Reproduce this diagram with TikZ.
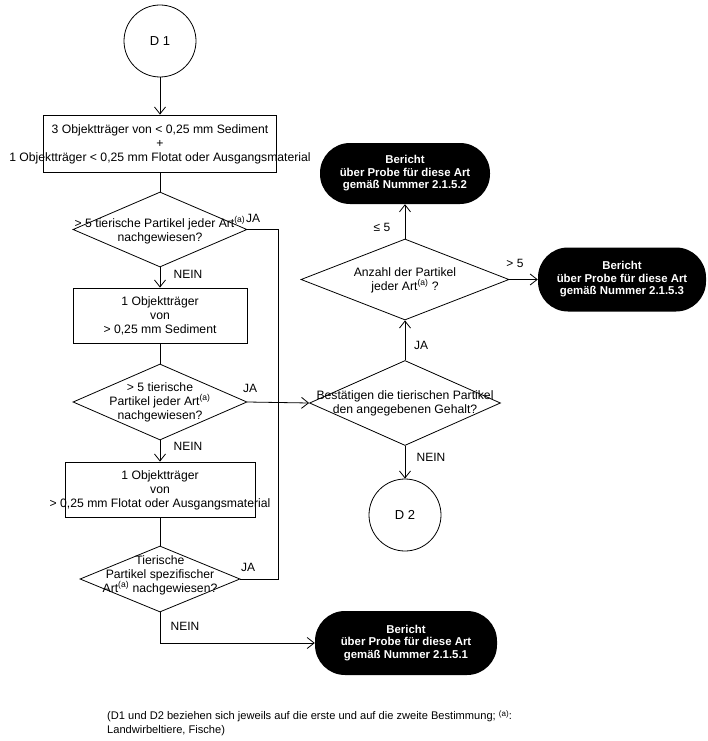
\documentclass[tikz,border=0pt]{standalone}
\usepackage{fontspec}
\setmainfont{Liberation Sans}
\usetikzlibrary{shapes.geometric,arrows.meta}
\begin{document}
\begin{tikzpicture}[x=1pt,y=-1pt,
  every node/.style={inner sep=0pt},
  ln/.style={line width=0.8pt},
  arr/.style={ln,-{Straight Barb[length=7pt,width=11pt,line width=0.8pt]}},
  box/.style={draw,rectangle,ln},
  dia/.style={draw,diamond,ln},
  circ/.style={draw,circle,ln,minimum size=72pt,font=\fontsize{13}{15}\selectfont},
  term/.style={fill=black,rectangle,rounded corners=30pt,text=white,align=center,
     font=\bfseries\fontsize{11.4}{12.5}\selectfont},
  txt/.style={align=center,font=\fontsize{12.2}{14}\selectfont},
  lab/.style={font=\fontsize{12}{13}\selectfont}
]
\useasboundingbox[fill=white] (0,0) rectangle (708,741);

% left column
\node[circ] (d1) at (160,41) {D 1};
\node[box,minimum width=233pt,minimum height=57pt] (b1) at (160,143.5) {};
\node[txt] (b1t) at (160,144) {3 Objektträger von < 0,25 mm Sediment\\+\\1 Objektträger < 0,25 mm Flotat oder Ausgangsmaterial};

\node[dia,minimum width=174pt,minimum height=75pt] (q1) at (160,229.5) {};
\node[txt] (q1t) at (160,230) {> 5 tierische Partikel jeder Art\textsuperscript{(a)}\\nachgewiesen?};

\node[box,minimum width=174pt,minimum height=55pt] (b2) at (160,315.5) {};
\node[txt] (b2t) at (160,316) {1 Objektträger\\von\\> 0,25 mm Sediment};

\node[dia,minimum width=174pt,minimum height=76pt] (q2) at (160,402) {};
\node[txt] (q2t) at (160,402) {> 5 tierische\\Partikel jeder Art\textsuperscript{(a)}\\nachgewiesen?};

\node[box,minimum width=190pt,minimum height=55pt] (b3) at (160,489.5) {};
\node[txt] (b3t) at (160,490) {1 Objektträger\\von\\> 0,25 mm Flotat oder Ausgangsmaterial};

\node[dia,minimum width=160pt,minimum height=66pt] (q3) at (160,579) {};
\node[txt] (q3t) at (160,575) {Tierische\\Partikel spezifischer\\Art\textsuperscript{(a)} nachgewiesen?};

\node[term,minimum width=182pt,minimum height=64pt] (t3) at (406,643) {Bericht\\über Probe für diese Art\\gemäß Nummer 2.1.5.1};

% right column
\node[dia,minimum width=191pt,minimum height=85pt] (q4) at (405,403) {};
\node[txt] (q4t) at (405,403) {Bestätigen die tierischen Partikel\\den angegebenen Gehalt?};

\node[dia,minimum width=208pt,minimum height=81pt] (q5) at (405,279.5) {};
\node[txt] (q5t) at (405,280) {Anzahl der Partikel\\jeder Art\textsuperscript{(a)} ?};

\node[circ] (d2) at (405,515) {D 2};

\node[term,minimum width=170pt,minimum height=61pt] (t2) at (405,173.5) {Bericht\\über Probe für diese Art\\gemäß Nummer 2.1.5.2};
\node[term,minimum width=168pt,minimum height=64pt] (t1) at (622,279.5) {Bericht\\über Probe für diese Art\\gemäß Nummer 2.1.5.3};

% helper coordinates
\coordinate (c1) at (278,229.5);
\coordinate (c2) at (278,579);
\coordinate (c3) at (160,643);

% connectors
\draw[arr] (d1) -- (b1);
\draw[ln] (b1) -- (q1);
\draw[arr] (q1) -- (b2);
\draw[ln] (q1.east) -- (c1) -- (c2) -- (q3.east);
\draw[ln] (b2) -- (q2);
\draw[arr] (q2.east) -- (q4.west);
\draw[arr] (q2) -- (b3);
\draw[ln] (b3) -- (q3);
\draw[arr] (q3.south) -- (c3) -- (t3.west);
\draw[arr] (q4) -- (q5);
\draw[arr] (q4) -- (d2);
\draw[arr] (q5) -- (t2);
\draw[arr] (q5.east) -- (t1.west);

% labels
\node[lab] (ja1) at (253,218) {JA};
\node[lab] (ja2) at (250,388) {JA};
\node[lab] (ja3) at (248,567) {JA};
\node[lab] (ne1) at (188,274) {NEIN};
\node[lab] (ne2) at (188,446) {NEIN};
\node[lab] (ne3) at (185,626) {NEIN};
\node[lab] (ja4) at (421,345) {JA};
\node[lab] (ne4) at (431,457) {NEIN};
\node[lab] (le5) at (382,227) {≤ 5};
\node[lab] (gt5) at (515,263) {> 5};

\node[lab,anchor=north west,align=left,font=\fontsize{11.1}{14}\selectfont] (fn) at (107,710)
  {(D1 und D2 beziehen sich jeweils auf die erste und auf die zweite Bestimmung; {\fontsize{8}{9}\selectfont\raisebox{0.45em}{(a)}}:\\Landwirbeltiere, Fische)};
\end{tikzpicture}
\end{document}
